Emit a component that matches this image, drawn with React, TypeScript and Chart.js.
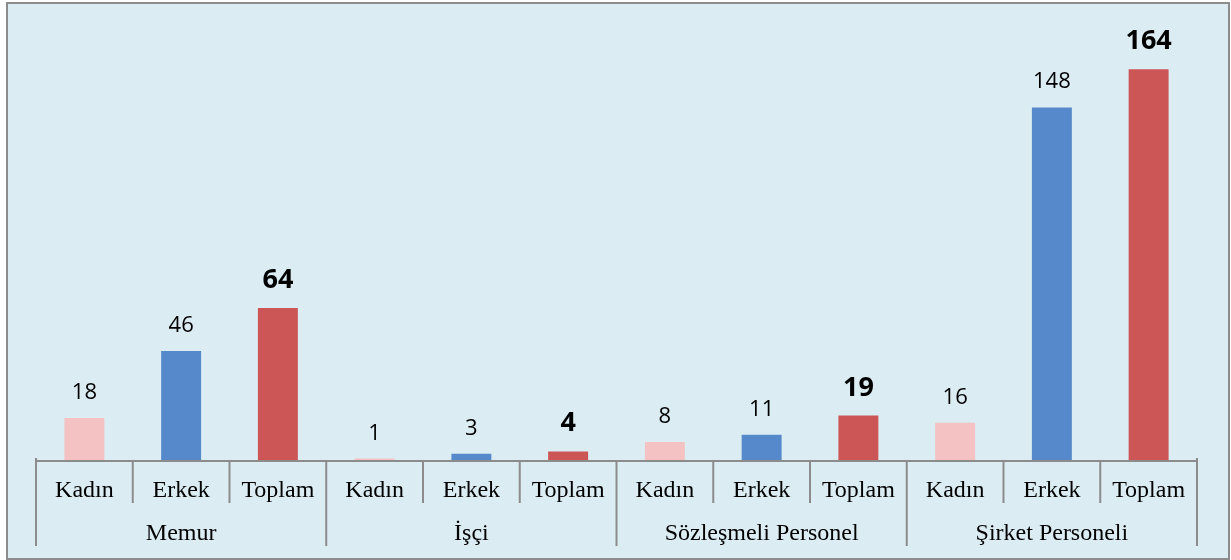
import React, { useEffect, useRef } from "react";
import { Chart, registerables } from "chart.js";

Chart.register(...registerables);

const groups = ["Memur", "İşçi", "Sözleşmeli Personel", "Şirket Personeli"];
const subCategories = ["Kadın", "Erkek", "Toplam"];
const memurValues = [18, 46, 64];
const isciValues = [1, 3, 4];
const sozlesmeliValues = [8, 11, 19];
const sirketValues = [16, 148, 164];
const subColors = ["#F4C2C2", "#5689CB", "#CC5656"];

export default function App() {
  const ref = useRef<HTMLCanvasElement | null>(null);

  useEffect(() => {
    document.body.style.margin = "0";
    const canvas = ref.current;
    if (!canvas) return;
    const allValues = [memurValues, isciValues, sozlesmeliValues, sirketValues];
    const labels: string[] = [];
    const values: number[] = [];
    const colors: string[] = [];
    const bold: boolean[] = [];
    groups.forEach((g, gi) => {
      subCategories.forEach((s, si) => {
        labels.push(g + "|" + s);
        values.push(allValues[gi][si]);
        colors.push(subColors[si]);
        bold.push(si === 2);
      });
    });

    const framePlugin = {
      id: "frame",
      beforeDraw(chart: any) {
        const { ctx, width, height } = chart;
        ctx.save();
        ctx.fillStyle = "#FFFFFF";
        ctx.fillRect(0, 0, width, height);
        ctx.fillStyle = "#DBEDF3";
        ctx.fillRect(7, 3, 1222, 556);
        ctx.strokeStyle = "#8C8C8C";
        ctx.lineWidth = 2;
        ctx.strokeRect(7, 3, 1222, 556);
        ctx.restore();
      },
      afterDatasetsDraw(chart: any) {
        const { ctx, chartArea } = chart;
        const xs = chart.scales.x;
        const ys = chart.scales.y;
        const meta = chart.getDatasetMeta(0);
        ctx.save();
        // data labels
        ctx.textAlign = "center";
        ctx.textBaseline = "alphabetic";
        ctx.fillStyle = "#000000";
        meta.data.forEach((bar: any, i: number) => {
          const b = bold[i];
          ctx.font = b ? "bold 27px 'Open Sans', 'DejaVu Sans', sans-serif" : "22px 'Open Sans', 'DejaVu Sans', sans-serif";
          ctx.fillText(String(values[i]), bar.x, bar.y - (b ? 20 : 19));
        });
        // axis
        const n = labels.length;
        const left = chartArea.left;
        const right = chartArea.right;
        const bottom = ys.getPixelForValue(0);
        const step = (right - left) / n;
        ctx.strokeStyle = "#8C8C8C";
        ctx.lineWidth = 2;
        ctx.beginPath();
        ctx.moveTo(left, bottom);
        ctx.lineTo(right, bottom);
        ctx.moveTo(right, bottom - 3);
        ctx.lineTo(right, bottom);
        ctx.moveTo(left, bottom - 3);
        ctx.lineTo(left, bottom);
        for (let i = 0; i <= n; i++) {
          const x = left + step * i;
          const isGroup = i % 3 === 0;
          ctx.moveTo(x, bottom);
          ctx.lineTo(x, isGroup ? 546 : 503);
        }
        ctx.stroke();
        ctx.font = "24px 'Liberation Serif', 'Times New Roman', serif";
        ctx.textBaseline = "alphabetic";
        labels.forEach((l, i) => {
          const cx = xs.getPixelForValue(i);
          ctx.fillText(l.split("|")[1], cx, 497);
        });
        groups.forEach((g, gi) => {
          const cx = left + step * (gi * 3 + 1.5);
          ctx.fillText(g, cx, 540);
        });
        ctx.restore();
      },
    };

    const chart = new Chart(canvas, {
      type: "bar",
      data: {
        labels,
        datasets: [
          {
            data: values,
            backgroundColor: colors,
            borderWidth: 0,
            categoryPercentage: 1,
            barPercentage: 0.413,
          },
        ],
      },
      options: {
        animation: false,
        responsive: false,
        maintainAspectRatio: false,
        layout: { padding: { left: 36, right: 34, top: 31, bottom: 99 } },
        plugins: { legend: { display: false }, tooltip: { enabled: false } },
        scales: {
          x: { display: false },
          y: { display: false, min: 0, max: 180 },
        },
      },
      plugins: [framePlugin],
    });
    return () => chart.destroy();
  }, []);

  return <canvas ref={ref} width={1231} height={560} style={{ display: "block" }} />;
}
